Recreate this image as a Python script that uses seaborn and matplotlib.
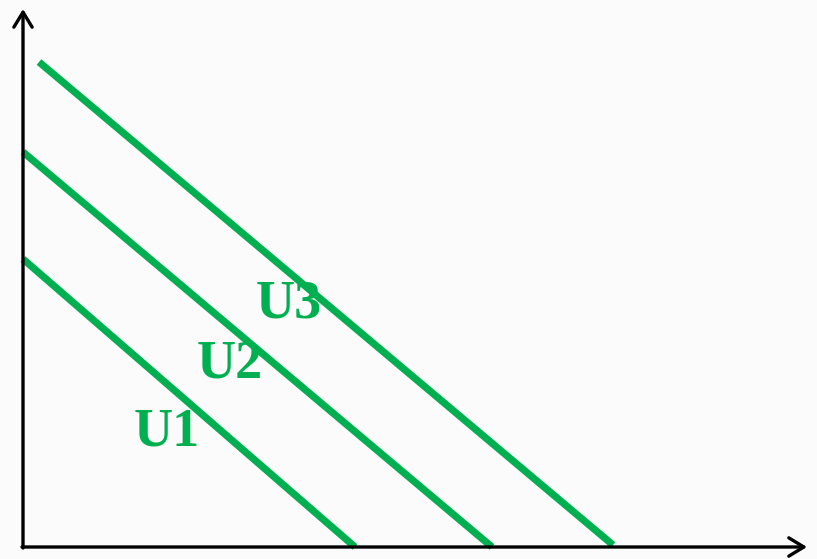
import matplotlib
matplotlib.use("Agg")
import matplotlib.pyplot as plt
import seaborn as sns
import pandas as pd

# Indifference curves (endpoints in chart units, origin at the axes corner)
curves = ["U1", "U2", "U3"]
x_start = [0, 0, 16]
y_start = [288, 395, 485]
x_end = [332, 469, 590]
y_end = [0, 0, 2]

# Label anchors (left, baseline)
label_x = [111, 174, 233]
label_y = [102, 169, 230]

green = "#00b050"

rows = []
for c, xs, ys, xe, ye in zip(curves, x_start, y_start, x_end, y_end):
    rows.append({"curve": c, "x": xs, "y": ys})
    rows.append({"curve": c, "x": xe, "y": ye})
df = pd.DataFrame(rows)

sns.set_theme(style="white")
fig = plt.figure(figsize=(8.17, 5.59), dpi=100)
fig.patch.set_facecolor("#fbfbfb")
ax = fig.add_axes([0, 0, 1, 1])
ax.set_facecolor("#fbfbfb")

sns.lineplot(data=df, x="x", y="y", hue="curve", units="curve", estimator=None,
             palette=[green] * 3, linewidth=5.2, legend=False, ax=ax, sort=False)
for ln in ax.get_lines():
    ln.set_solid_capstyle("butt")

for c, lx, ly in zip(curves, label_x, label_y):
    ax.text(lx, ly, c, color=green, fontsize=39, fontweight="bold",
            family=["Liberation Serif", "DejaVu Serif"], ha="left", va="baseline")

ax.set_xlim(-23, 794)
ax.set_ylim(-12, 547)

arrow = dict(arrowstyle="->,head_length=0.9,head_width=0.55", color="black",
             lw=2.4, shrinkA=0, shrinkB=0)
ax.annotate("", xy=(0, 538), xytext=(0, -1), arrowprops=arrow)
ax.annotate("", xy=(784, 0), xytext=(-1, 0), arrowprops=arrow)

ax.axis("off")
fig.savefig("out.png", dpi=100, facecolor=fig.get_facecolor())
